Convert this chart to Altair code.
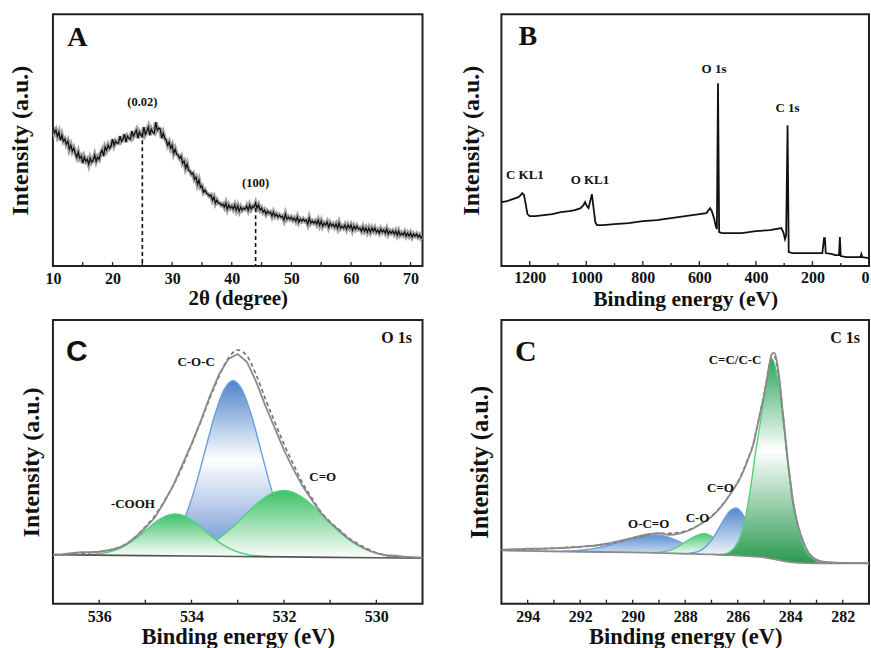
import altair as alt
import pandas as pd

SERIF = "Liberation Serif"
SANS = "Liberation Sans"
INK = "#111111"

# ---------------- Panel A : XRD pattern (intensity in arbitrary units) ----------------
xrd_intensity = [
    139, 133, 136, 130, 134, 126, 131, 125, 127, 122, 125, 117, 121, 115, 118, 113,
    109, 114, 108, 110, 103, 109, 105, 107, 102, 108, 104, 106, 111, 105, 109, 107,
    113, 116, 110, 119, 116, 121, 118, 120, 127, 121, 125, 123, 123, 130, 125, 127,
    132, 124, 130, 128, 127, 135, 130, 133, 136, 128, 134, 131, 130, 139, 132, 135,
    139, 131, 137, 134, 133, 144, 136, 138, 137, 128, 133, 128, 126, 121, 124, 118,
    121, 113, 117, 112, 111, 108, 110, 103, 105, 98, 102, 96, 95, 92, 93, 87,
    89, 82, 86, 79, 80, 74, 76, 73, 72, 70, 71, 66, 69, 63, 66, 63,
    63, 61, 62, 59, 63, 57, 61, 58, 60, 57, 61, 56, 60, 55, 59, 56,
    58, 57, 60, 56, 61, 57, 60, 59, 63, 58, 61, 56, 58, 54, 56, 52,
    55, 53, 54, 50, 54, 50, 52, 49, 51, 49, 50, 46, 52, 47, 49, 47,
    49, 46, 48, 45, 49, 44, 47, 45, 47, 45, 46, 42, 48, 43, 45, 43,
    45, 42, 46, 41, 45, 40, 43, 41, 44, 39, 43, 40, 42, 39, 42, 38,
    43, 38, 40, 38, 41, 37, 41, 38, 41, 36, 40, 37, 40, 37, 38, 35,
    39, 35, 38, 34, 38, 34, 38, 35, 38, 34, 36, 33, 37, 34, 36, 33,
    37, 32, 35, 33, 35, 32, 35, 31, 35, 31, 33, 31, 34, 30, 33, 30,
    33, 29, 32, 30, 32, 29, 31, 28, 30,
]
xrd_angle = [10 + 0.25 * i for i in range(len(xrd_intensity))]
xrd_peak_angle = [25, 44]
xrd_peak_top = [133, 58]
xrd_peak_label = ["(0.02)", "(100)"]
xrd_label_y = [164, 83]
xrd_ticks_major = [10, 20, 30, 40, 50, 60, 70]
xrd_ticks_minor = [15, 25, 35, 45, 55, 65]

# ---------------- Panel B : XPS survey ----------------
survey_energy = [1300, 1280, 1260, 1240, 1232, 1226, 1220, 1214, 1208, 1200,
                 1180, 1150, 1120, 1090, 1060, 1040, 1020, 1010, 1004, 998,
                 992, 986, 980, 975, 968, 962, 940, 900, 850, 800,
                 750, 700, 650, 600, 575, 562, 556, 548, 542, 538,
                 534, 530, 520, 450, 400, 350, 310, 302, 297, 293,
                 288, 284, 270, 200, 165, 159, 156, 153, 130, 120,
                 106, 103, 100, 80, 40, 30, 27, 24, 0]
survey_intensity = [64, 65, 67, 69, 71, 73, 71, 62, 52, 50,
                    50, 51, 52, 54, 55, 56, 58, 61, 64, 60,
                    58, 65, 72, 60, 44, 41, 41, 42, 43, 45,
                    46, 48, 50, 52, 53, 58, 55, 48, 40, 37,
                    183, 34, 33, 33, 35, 36, 38, 33, 27, 31,
                    141, 14, 13, 13, 13, 28, 28, 13, 12, 11,
                    11, 29, 10, 9, 9, 9, 12, 9, 8]
survey_label = ["C KL1", "O KL1", "O 1s", "C 1s"]
survey_label_energy = [1217, 987, 548, 288]
survey_label_y = [91, 86, 197, 158]
survey_ticks_major = [1200, 1000, 800, 600, 400, 200, 0]
survey_ticks_minor = [1100, 900, 700, 500, 300, 100]

# ---------------- Panel C : O 1s ----------------
o1s_energy = [537.0, 536.8, 536.6, 536.4, 536.2, 536.0, 535.8, 535.6, 535.4, 535.2,
              535.0, 534.8, 534.6, 534.4, 534.2, 534.0, 533.8, 533.6, 533.4, 533.2,
              533.0, 532.8, 532.6, 532.4, 532.2, 532.0, 531.8, 531.6, 531.4, 531.2,
              531.0, 530.8, 530.6, 530.4, 530.2, 530.0, 529.8, 529.6, 529.4, 529.2, 529.0]
o1s_measured = [49, 49.5, 50.5, 51.5, 51.5, 52, 53.5, 55.5, 60, 67,
                76, 86, 101, 118, 139, 160, 183, 208, 230, 245,
                250, 242, 222, 198, 176, 154, 135, 118, 104, 91,
                81, 73, 65, 59, 54, 50.5, 48.5, 48, 47, 46.5, 46]
o1s_fit = [48.5, 49, 49.5, 50, 51, 52, 53.5, 56, 60.5, 67.5,
           77, 87.5, 102, 118, 137, 159, 182, 206, 228, 246,
           254, 248, 229, 205, 182, 160, 140, 121, 106, 92,
           82, 74, 66, 60, 55, 51, 48.5, 47, 46.5, 46, 46]
o1s_bg_energy = [537, 535, 533, 531, 529]
o1s_bg = [49.0, 48.1, 47.3, 46.4, 45.5]

coc_energy = [535.1, 534.9, 534.7, 534.5, 534.3, 534.1, 533.9, 533.7, 533.5, 533.3, 533.1,
              532.9, 532.7, 532.5, 532.3, 532.1, 531.9, 531.7, 531.5, 531.3, 531.1]
coc_top = [48.8, 50.0, 52.9, 59.4, 71.5, 91.6, 119.9, 154.3, 188.4, 213.8, 223.2,
           213.6, 188.1, 153.8, 119.2, 90.7, 70.5, 58.2, 51.6, 48.5, 47.1]
coc_base = [48.1, 48.0, 47.9, 47.8, 47.7, 47.7, 47.6, 47.5, 47.4, 47.3, 47.2,
            47.2, 47.1, 47.0, 46.9, 46.8, 46.7, 46.6, 46.6, 46.5, 46.4]

cooh_energy = [536.35, 536.15, 535.95, 535.75, 535.55, 535.35, 535.15, 534.95, 534.75, 534.55, 534.35,
               534.15, 533.95, 533.75, 533.55, 533.35, 533.15, 532.95, 532.75, 532.55, 532.35]
cooh_top = [48.9, 49.3, 50.3, 52.2, 55.5, 60.6, 67.3, 75.1, 82.6, 87.9, 89.8,
            87.7, 82.2, 74.6, 66.6, 59.8, 54.5, 51.0, 48.9, 47.8, 47.2]
cooh_base = [48.6, 48.5, 48.5, 48.4, 48.3, 48.2, 48.1, 48.0, 48.0, 47.9, 47.8,
             47.7, 47.6, 47.5, 47.4, 47.4, 47.3, 47.2, 47.1, 47.0, 46.9]

oco_energy = [534.8, 534.6, 534.4, 534.2, 534.0, 533.8, 533.6, 533.4, 533.2, 533.0,
              532.8, 532.6, 532.4, 532.2, 532.0, 531.8, 531.6, 531.4, 531.2, 531.0,
              530.8, 530.6, 530.4, 530.2, 530.0, 529.8, 529.6, 529.4, 529.2]
oco_top = [48.4, 48.7, 49.3, 50.4, 52.4, 55.4, 59.8, 65.6, 73.0, 81.6,
           90.7, 99.4, 106.8, 111.7, 113.3, 111.5, 106.4, 98.9, 90.0, 80.8,
           72.0, 64.4, 58.4, 53.8, 50.6, 48.5, 47.3, 46.5, 46.0]
oco_base = [48.0, 47.9, 47.8, 47.7, 47.7, 47.6, 47.5, 47.4, 47.3, 47.2,
            47.1, 47.0, 47.0, 46.9, 46.8, 46.7, 46.6, 46.5, 46.4, 46.4,
            46.3, 46.2, 46.1, 46.0, 45.9, 45.8, 45.8, 45.7, 45.6]

o1s_label = ["C-O-C", "C=O", "-COOH"]
o1s_label_energy = [533.9, 531.16, 535.27]
o1s_label_y = [242, 127, 100]
o1s_ticks_major = [536, 534, 532, 530]
o1s_ticks_minor = [535, 533, 531]

# ---------------- Panel D : C 1s ----------------
c1s_energy = [295.0, 294.5, 294.0, 293.5, 293.0, 292.5, 292.0, 291.5, 291.0, 290.5,
              290.0, 289.5, 289.0, 288.6, 288.2, 287.8, 287.4, 287.0, 286.6, 286.2,
              285.9, 285.6, 285.4, 285.3, 285.2, 285.1, 285.0, 284.9, 284.8, 284.7,
              284.6, 284.5, 284.4, 284.3, 284.2, 284.1, 284.0, 283.9, 283.7, 283.5,
              283.3, 283.0, 282.6, 282.0, 281.5, 281.0]
c1s_measured = [54, 54.5, 55, 55, 55.5, 56, 57, 58, 60, 63,
                66, 69, 70.5, 69, 70.5, 74, 80, 87, 98, 113,
                126, 145, 160, 172, 184, 196, 208, 223, 239, 250,
                251, 241, 222, 196, 171, 145, 124, 104, 78, 62,
                51, 44, 41.5, 40.8, 40.6, 40.5]
c1s_fit = [53.5, 54, 54.5, 55, 55.5, 56.5, 57, 58, 59.5, 62,
           65.5, 68.5, 70.5, 70.5, 71.5, 74.5, 80, 87.5, 98.5, 113.5,
           127, 146, 161, 173, 185, 197, 209, 224, 238, 247,
           247.5, 238, 220, 195, 170, 144.5, 123, 103, 78, 61.5,
           51, 44, 41.5, 40.8, 40.6, 40.5]
c1s_bg_energy = [295, 292, 290, 288, 287, 286.5, 286, 285.5, 285, 284.6, 284.2, 283.8, 283.4, 283, 281]
c1s_bg = [53.3, 52, 51.3, 50, 49.3, 48.7, 48.2, 47.3, 46.3, 44.5, 42.3, 41, 40.6, 40.5, 40.5]

ocod_energy = [292.7, 292.3, 291.9, 291.5, 291.1, 290.7, 290.3, 289.9, 289.5, 289.1,
               288.7, 288.3, 287.9, 287.5, 287.1, 286.7, 286.3]
ocod_top = [52.5, 52.9, 53.7, 55.1, 57.2, 60.0, 63.2, 66.1, 68.2, 68.8,
            67.0, 62.8, 58.0, 54.0, 51.4, 49.7, 48.7]
ocod_base = [52.1, 52.0, 51.9, 51.8, 51.7, 51.6, 51.4, 51.2, 51.0, 50.8,
             50.5, 50.2, 49.9, 49.6, 49.4, 49.0, 48.5]

cod_energy = [289.27, 289.07, 288.87, 288.67, 288.47, 288.27, 288.07, 287.87, 287.67, 287.47,
              287.27, 287.07, 286.87, 286.67, 286.47, 286.27, 286.07, 285.87, 285.67]
cod_top = [51.1, 51.3, 51.9, 52.9, 54.6, 57.2, 60.4, 63.8, 67.0, 69.2,
           70.0, 68.6, 64.9, 60.2, 55.8, 52.4, 50.2, 48.8, 48.0]
cod_base = [50.8, 50.7, 50.6, 50.4, 50.3, 50.2, 50.05, 49.9, 49.8, 49.6,
            49.5, 49.35, 49.15, 48.9, 48.7, 48.5, 48.3, 48.0, 47.7]

cdo_energy = [287.87, 287.67, 287.47, 287.27, 287.07, 286.87, 286.67, 286.47, 286.27, 286.07,
              285.87, 285.67, 285.47, 285.27, 285.07, 284.87, 284.67, 284.47]
cdo_top = [50.4, 51.2, 52.7, 55.9, 61.2, 68.7, 77.7, 86.7, 93.4, 95.8,
           91.8, 82.2, 70.3, 60.0, 52.8, 48.1, 45.7, 44.2]
cdo_base = [49.9, 49.8, 49.6, 49.5, 49.35, 49.15, 48.9, 48.7, 48.5, 48.3,
            48.0, 47.7, 47.2, 46.8, 46.4, 45.4, 44.8, 43.9]

cc_energy = [286.7, 286.5, 286.3, 286.1, 285.9, 285.7, 285.5, 285.3, 285.1, 284.9, 284.7,
             284.5, 284.3, 284.1, 283.9, 283.7, 283.5, 283.3, 283.1, 282.9, 282.7, 282.5]
cc_top = [49.2, 49.8, 51.9, 57.1, 67, 87, 118, 155, 188, 222, 245,
          228.7, 190, 142, 100, 74, 58, 49, 44.5, 42, 41, 40.5]
cc_base = [48.9, 48.7, 48.5, 48.3, 47.9, 47.5, 47.3, 46.9, 46.5, 45.4, 45.0,
           44.0, 42.8, 41.7, 41.3, 40.9, 40.7, 40.6, 40.5, 40.5, 40.5, 40.5]

c1s_label = ["C=C/C-C", "C=O", "C-O", "O-C=O"]
c1s_label_energy = [286.1, 286.66, 287.53, 289.39]
c1s_label_y = [244, 116, 86, 80]
c1s_ticks_major = [294, 292, 290, 288, 286, 284, 282]
c1s_ticks_minor = [293, 291, 289, 287, 285, 283]

# ---------------- layout constants ----------------
W1, W2 = 370, 368
H1, H2 = 252, 284


def grad(*stops):
    return {"gradient": "linear", "x1": 0, "x2": 0, "y1": 0, "y2": 1,
            "stops": [{"offset": o, "color": c} for o, c in stops]}


def x_axis(title, values, title_size, label_pad=4, title_pad=1, flush=False):
    return alt.Axis(title=title, values=values, format="d", domain=False, ticks=False, grid=False,
                    labelFont=SERIF, labelFontSize=16, labelFontWeight="bold", labelColor=INK,
                    labelPadding=label_pad, labelFlush=flush, labelOverlap=False,
                    titleFont=SERIF, titleFontSize=title_size, titleFontWeight="bold", titleColor=INK,
                    titlePadding=title_pad)


def y_axis(pad, size=24):
    return alt.Axis(title="Intensity (a.u.)", labels=False, ticks=False, domain=False, grid=False,
                    titleFont=SERIF, titleFontSize=size, titleFontWeight="bold", titleColor=INK,
                    titlePadding=pad)


class Frame:
    """Shared x / y encodings (same scale + same axis) for every layer of a panel."""

    def __init__(self, xs, xa, ys, ya):
        self.xs, self.xa, self.ys, self.ya = xs, xa, ys, ya

    def X(self, f):
        return alt.X(f"{f}:Q", scale=self.xs, axis=self.xa)

    def Y(self, f):
        return alt.Y(f"{f}:Q", scale=self.ys, axis=self.ya)


def inner_ticks(fr, values, h, length):
    return alt.Chart(pd.DataFrame({"t": values})).mark_rule(color="#222222", strokeWidth=1.3).encode(
        x=fr.X("t"), y=alt.value(h), y2=alt.value(h - length))


def labels(fr, names, xs_vals, ys_vals, size):
    df = pd.DataFrame({"label": names, "x": xs_vals, "y": ys_vals})
    return alt.Chart(df).mark_text(font=SERIF, fontSize=size, fontWeight="bold", color=INK).encode(
        x=fr.X("x"), y=fr.Y("y"), text="label:N")


def pixel_text(text, px, py, size, font=SERIF):
    return alt.Chart(pd.DataFrame({"label": [text]})).mark_text(
        font=font, fontSize=size, fontWeight="bold", color=INK, align="center", baseline="middle"
    ).encode(x=alt.value(px), y=alt.value(py), text="label:N")


def line(fr, df, xf, yf, **kw):
    return alt.Chart(df).mark_line(clip=True, **kw).encode(x=fr.X(xf), y=fr.Y(yf))


def component(fr, energy, top, base, fill, stroke):
    df = pd.DataFrame({"e": energy, "top": top, "base": base})
    area = alt.Chart(df).mark_area(color=fill, opacity=1, interpolate="monotone", clip=True).encode(
        x=fr.X("e"), y=fr.Y("top"), y2="base:Q")
    edge = line(fr, df, "e", "top", color=stroke, strokeWidth=1.4, interpolate="monotone")
    return [area, edge]


# ---------------- Panel A ----------------
frA = Frame(alt.Scale(domain=[10, 72], nice=False, zero=False),
            x_axis("2θ (degree)", xrd_ticks_major, 21),
            alt.Scale(domain=[0, H1], nice=False, zero=False), y_axis(20))
dfA = pd.DataFrame({"a": xrd_angle, "i": xrd_intensity})
a_dash = alt.Chart(pd.DataFrame({"a": xrd_peak_angle, "top": xrd_peak_top})).mark_rule(
    color="#111111", strokeWidth=1.6, strokeDash=[4, 3]).encode(
    x=frA.X("a"), y=frA.Y("top"), y2=alt.value(H1))
panelA = alt.layer(
    line(frA, dfA, "a", "i", color="#a3a3a3", strokeWidth=4.2),
    line(frA, dfA, "a", "i", color="#111111", strokeWidth=1.3),
    a_dash,
    labels(frA, xrd_peak_label, xrd_peak_angle, xrd_label_y, 12.5),
    inner_ticks(frA, xrd_ticks_major + xrd_ticks_minor, H1, 4),
    pixel_text("A", 24.5, 23.5, 28),
).properties(width=W1, height=H1)

# ---------------- Panel B ----------------
frB = Frame(alt.Scale(domain=[0, 1300], reverse=True, nice=False, zero=False),
            x_axis("Binding energy (eV)", survey_ticks_major, 21.5, label_pad=3, title_pad=3,
                   flush=True),
            alt.Scale(domain=[0, H1], nice=False, zero=False), y_axis(18))
dfB = pd.DataFrame({"e": survey_energy, "i": survey_intensity})
panelB = alt.layer(
    line(frB, dfB, "e", "i", color="#111111", strokeWidth=1.8),
    labels(frB, survey_label, survey_label_energy, survey_label_y, 13),
    inner_ticks(frB, survey_ticks_major, H1, 5),
    inner_ticks(frB, survey_ticks_minor, H1, 3),
    pixel_text("B", 26.5, 23, 28),
).properties(width=W2, height=H1)

# ---------------- Panel C ----------------
frC = Frame(alt.Scale(domain=[529, 537], reverse=True, nice=False, zero=False),
            x_axis("Binding energy (eV)", o1s_ticks_major, 22.5, label_pad=5),
            alt.Scale(domain=[0, H2], nice=False, zero=False), y_axis(9))
dfC = pd.DataFrame({"e": o1s_energy, "m": o1s_measured, "f": o1s_fit})
blue_refl = grad((0, "#4d84c8"), (0.45, "#ffffff"), (1, "#6690cf"))
green_fade = grad((0, "#3dc168"), (1, "#ffffff"))
panelC = alt.layer(
    *component(frC, coc_energy, coc_top, coc_base, blue_refl, "#6a9fe0"),
    *component(frC, oco_energy, oco_top, oco_base, green_fade, "#52d07e"),
    *component(frC, cooh_energy, cooh_top, cooh_base, green_fade, "#52d07e"),
    line(frC, pd.DataFrame({"e": o1s_bg_energy, "b": o1s_bg}), "e", "b",
         color="#555555", strokeWidth=1.6, interpolate="monotone"),
    line(frC, dfC, "e", "f", color="#6f6f6f", strokeWidth=1.6, strokeDash=[4, 3],
         interpolate="monotone"),
    line(frC, dfC, "e", "m", color="#8a8a8a", strokeWidth=1.8),
    labels(frC, o1s_label, o1s_label_energy, o1s_label_y, 13),
    inner_ticks(frC, o1s_ticks_major + o1s_ticks_minor, H2, 4),
    pixel_text("C", 24, 32.5, 30, SANS),
    pixel_text("O  1s", 344, 18, 16),
).properties(width=W1, height=H2)

# ---------------- Panel D ----------------
frD = Frame(alt.Scale(domain=[281, 295], reverse=True, nice=False, zero=False),
            x_axis("Binding energy (eV)", c1s_ticks_major, 22.5, label_pad=5),
            alt.Scale(domain=[0, H2], nice=False, zero=False), y_axis(8.5, 24.5))
dfD = pd.DataFrame({"e": c1s_energy, "m": c1s_measured, "f": c1s_fit})
green_refl = grad((0, "#2ea65a"), (0.45, "#ffffff"), (1, "#2a9a4e"))
blue_fade = grad((0, "#5289cc"), (1, "#ffffff"))
blue_soft = grad((0, "#5d8fd2"), (1, "#d6e4f6"))
green_soft = grad((0, "#4cc777"), (1, "#ffffff"))
panelD = alt.layer(
    *component(frD, ocod_energy, ocod_top, ocod_base, blue_soft, "#6a9fe0"),
    *component(frD, cod_energy, cod_top, cod_base, green_soft, "#52d07e"),
    *component(frD, cdo_energy, cdo_top, cdo_base, blue_fade, "#6a9fe0"),
    *component(frD, cc_energy, cc_top, cc_base, green_refl, "#52d07e"),
    line(frD, pd.DataFrame({"e": c1s_bg_energy, "b": c1s_bg}), "e", "b",
         color="#8c8c8c", strokeWidth=1.8, interpolate="monotone"),
    line(frD, dfD, "e", "f", color="#6f6f6f", strokeWidth=1.6, strokeDash=[4, 3],
         interpolate="monotone"),
    line(frD, dfD, "e", "m", color="#8a8a8a", strokeWidth=1.8, interpolate="monotone"),
    labels(frD, c1s_label, c1s_label_energy, c1s_label_y, 13),
    inner_ticks(frD, c1s_ticks_major + c1s_ticks_minor, H2, 4),
    pixel_text("C", 24.3, 32.5, 30),
    pixel_text("C  1s", 344, 18, 16),
).properties(width=W2, height=H2)

chart = alt.concat(
    panelA, panelB, panelC, panelD,
    columns=2, spacing={"row": 54, "column": 79}, bounds="flush",
).properties(
    padding={"left": 8, "top": 13, "right": 0, "bottom": 0}
).configure_view(stroke="#222222", strokeWidth=2)

chart.save("out.html", embed_options={"renderer": "svg", "actions": False})
